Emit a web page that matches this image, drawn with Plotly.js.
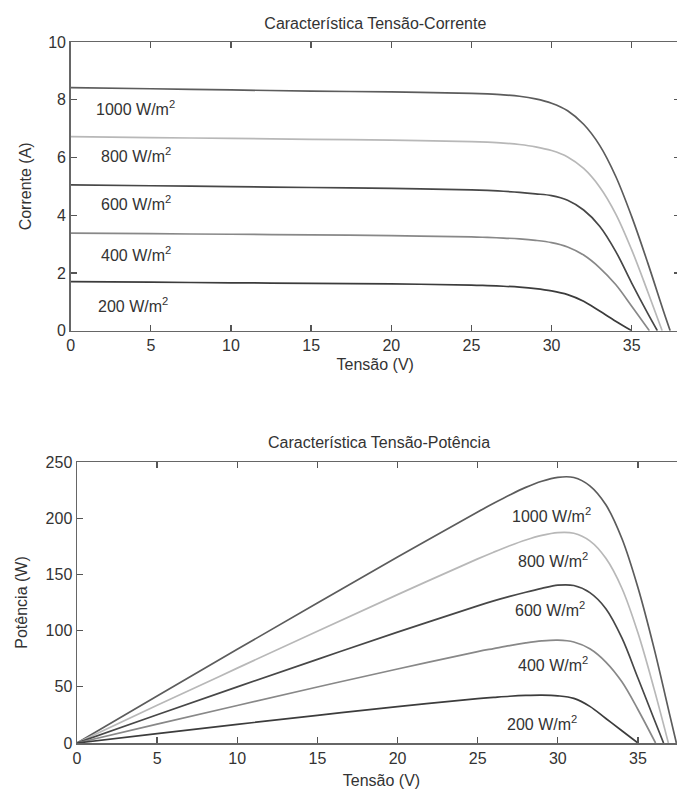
<!DOCTYPE html>
<html>
<head>
<meta charset="utf-8">
<script src="https://cdn.plot.ly/plotly-3.0.1.min.js"></script>
<style>
html,body{margin:0;padding:0;overflow:hidden;background:#fff;}
#chart{width:690px;height:794px;}
</style>
</head>
<body>
<div id="chart"></div>
<script>
// Irradiance levels
const levels = ['1000 W/m<sup>2</sup>', '800 W/m<sup>2</sup>', '600 W/m<sup>2</sup>', '400 W/m<sup>2</sup>', '200 W/m<sup>2</sup>'];
const lineColors = ['#5c5c5c', '#b8b8b8', '#474747', '#888888', '#3c3c3c'];

// I-V curves (Tensão V, Corrente A)
const v1000 = [0, 5, 10, 15, 20, 25, 26, 27, 28, 29, 30, 31, 32, 33, 34, 35, 36, 37, 37.4];
const i1000 = [8.42, 8.38, 8.34, 8.30, 8.27, 8.22, 8.20, 8.17, 8.12, 8.03, 7.88, 7.62, 7.15, 6.42, 5.35, 3.95, 2.35, 0.65, 0];
const v800 = [0, 5, 10, 15, 20, 25, 26, 27, 28, 29, 30, 31, 32, 33, 34, 35, 36, 36.9];
const i800 = [6.72, 6.69, 6.66, 6.63, 6.60, 6.55, 6.53, 6.50, 6.45, 6.37, 6.24, 6.02, 5.62, 4.98, 4.05, 2.80, 1.35, 0];
const v600 = [0, 5, 10, 15, 20, 25, 26, 27, 28, 29, 30, 31, 32, 33, 34, 35, 36, 36.6];
const i600 = [5.05, 5.02, 4.99, 4.96, 4.93, 4.88, 4.86, 4.83, 4.79, 4.74, 4.68, 4.52, 4.18, 3.62, 2.75, 1.65, 0.60, 0];
const v400 = [0, 5, 10, 15, 20, 25, 26, 27, 28, 29, 30, 31, 32, 33, 34, 35, 36.1];
const i400 = [3.38, 3.36, 3.34, 3.32, 3.29, 3.25, 3.23, 3.21, 3.18, 3.13, 3.05, 2.90, 2.62, 2.18, 1.60, 0.85, 0];
const v200 = [0, 5, 10, 15, 20, 25, 26, 27, 28, 29, 30, 31, 32, 33, 34, 35];
const i200 = [1.70, 1.68, 1.66, 1.64, 1.62, 1.58, 1.56, 1.54, 1.51, 1.46, 1.38, 1.25, 1.02, 0.68, 0.33, 0];

// P-V curves (Tensão V, Potência W), same voltage grids as above
const p1000 = [0, 41.9, 83.4, 124.5, 165.4, 205.5, 213.2, 220.6, 227.4, 232.9, 236.4, 236.2, 228.8, 211.9, 181.9, 138.3, 84.6, 24.1, 0];
const p800 = [0, 33.5, 66.6, 99.5, 132.0, 163.8, 169.8, 175.5, 180.6, 184.7, 187.2, 186.6, 179.8, 164.3, 137.7, 98.0, 48.6, 0];
const p600 = [0, 25.1, 49.9, 74.4, 98.6, 122.0, 126.4, 130.4, 134.1, 137.5, 140.4, 140.1, 133.8, 119.5, 93.5, 57.8, 21.6, 0];
const p400 = [0, 16.8, 33.4, 49.8, 65.8, 81.3, 84.0, 86.7, 89.0, 90.8, 91.5, 89.9, 83.8, 72.0, 54.4, 29.8, 0];
const p200 = [0, 8.4, 16.6, 24.6, 32.4, 39.5, 40.6, 41.6, 42.3, 42.6, 42.0, 39.7, 32.6, 21.8, 10.9, 0];

// label positions
const ivLabelX = [1.48, 1.75, 1.75, 1.75, 1.6];
const ivLabelY = [7.73, 6.07, 4.42, 2.67, 0.9];
const pvLabelX = [27.0, 27.4, 27.2, 27.4, 26.7];
const pvLabelY = [203, 163, 119, 70, 17.6];

const xTicks = [0, 5, 10, 15, 20, 25, 30, 35];
const ivTicks = [0, 2, 4, 6, 8, 10];
const pvTicks = [0, 50, 100, 150, 200, 250];

const V = [v1000, v800, v600, v400, v200];
const I = [i1000, i800, i600, i400, i200];
const P = [p1000, p800, p600, p400, p200];

const FONT = 'Liberation Sans, Arial, sans-serif';
const TXT = '#333333';

const traces = [];
for (let k = 0; k < 5; k++) {
  traces.push({x: V[k], y: I[k], type: 'scatter', mode: 'lines', line: {color: lineColors[k], width: 1.7, shape: 'spline', smoothing: 1}, xaxis: 'x', yaxis: 'y', hoverinfo: 'skip', showlegend: false});
}
for (let k = 0; k < 5; k++) {
  traces.push({x: V[k], y: P[k], type: 'scatter', mode: 'lines', line: {color: lineColors[k], width: 1.7, shape: 'spline', smoothing: 1}, xaxis: 'x2', yaxis: 'y2', hoverinfo: 'skip', showlegend: false});
}

const annotations = [];
for (let k = 0; k < 5; k++) {
  annotations.push({xref: 'x', yref: 'y', x: ivLabelX[k], y: ivLabelY[k], text: levels[k], showarrow: false, xanchor: 'left', yanchor: 'middle', font: {family: FONT, size: 16, color: TXT}});
  annotations.push({xref: 'x2', yref: 'y2', x: pvLabelX[k], y: pvLabelY[k], text: levels[k], showarrow: false, xanchor: 'left', yanchor: 'middle', font: {family: FONT, size: 16, color: TXT}});
}
annotations.push({xref: 'paper', yref: 'paper', x: (77 + 680) / 2 / 690, y: 1 - 442 / 794, text: 'Característica Tensão-Potência', showarrow: false, xanchor: 'center', yanchor: 'middle', font: {family: FONT, size: 16, color: TXT}});

const axisCommon = {
  showline: true, linecolor: '#666', linewidth: 1.5, mirror: 'ticks',
  ticks: 'inside', ticklen: 6, tickwidth: 1.3, tickcolor: '#555',
  showgrid: false, zeroline: false, fixedrange: true,
  tickfont: {family: FONT, size: 16, color: TXT}
};

const layout = {
  width: 690, height: 794, autosize: false,
  margin: {l: 0, r: 0, t: 0, b: 0},
  paper_bgcolor: '#fff', plot_bgcolor: '#fff',
  showlegend: false,
  title: {text: 'Característica Tensão-Corrente', x: (70.7 + 680) / 2 / 690, xanchor: 'center', y: 1 - 23 / 794, yanchor: 'middle', font: {family: FONT, size: 16, color: TXT}},
  xaxis: Object.assign({}, axisCommon, {domain: [70.7 / 690, 679.8 / 690], range: [0, 38], tickvals: xTicks, anchor: 'y',
    title: {text: 'Tensão (V)', font: {family: FONT, size: 16, color: TXT}, standoff: 5}}),
  yaxis: Object.assign({}, axisCommon, {domain: [1 - 330.7 / 794, 1 - 42 / 794], range: [0, 10], tickvals: ivTicks, anchor: 'x',
    title: {text: 'Corrente (A)', font: {family: FONT, size: 16, color: TXT}, standoff: 12}}),
  xaxis2: Object.assign({}, axisCommon, {domain: [77 / 690, 686 / 690], range: [0, 38], tickvals: xTicks, anchor: 'y2',
    title: {text: 'Tensão (V)', font: {family: FONT, size: 16, color: TXT}, standoff: 9}}),
  yaxis2: Object.assign({}, axisCommon, {domain: [1 - 743 / 794, 1 - 462 / 794], range: [0, 250], tickvals: pvTicks, anchor: 'x2',
    title: {text: 'Potência (W)', font: {family: FONT, size: 16, color: TXT}, standoff: 14}}),
  annotations: annotations
};

Plotly.newPlot('chart', traces, layout, {staticPlot: true, displayModeBar: false});
</script>
</body>
</html>
